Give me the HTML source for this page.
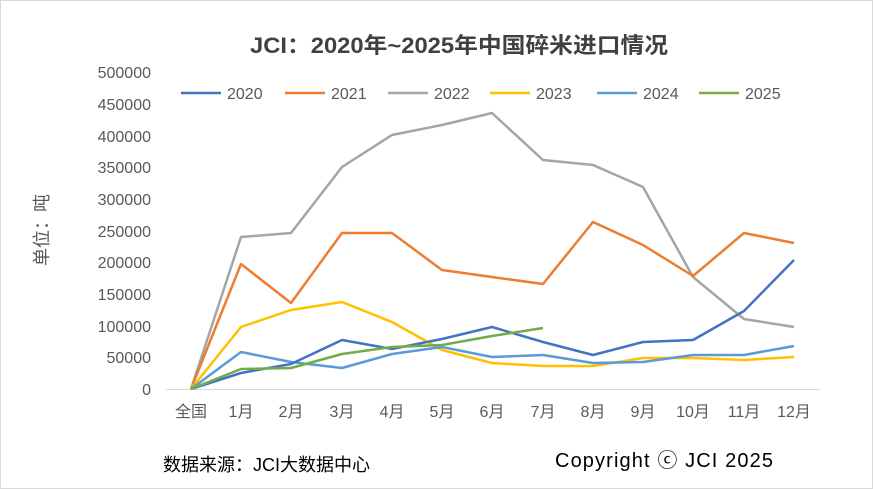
<!DOCTYPE html>
<html><head><meta charset="utf-8"><style>
body{margin:0;background:#fff}
svg{display:block;font-family:"Liberation Sans","Noto Sans CJK SC",sans-serif}
</style></head><body>
<svg width="873" height="489" viewBox="0 0 873 489" xmlns="http://www.w3.org/2000/svg">
<rect x="0.5" y="0.5" width="872" height="488" fill="#fff" stroke="#d9d9d9"/>
<text x="250" y="53" textLength="418" lengthAdjust="spacingAndGlyphs" font-size="22" font-weight="bold" fill="#404040">JCI：2020年~2025年中国碎米进口情况</text>
<g font-size="16" fill="#595959" text-anchor="end">
<text x="151" y="78">500000</text><text x="151" y="110">450000</text><text x="151" y="142">400000</text><text x="151" y="173">350000</text><text x="151" y="205">300000</text><text x="151" y="237">250000</text><text x="151" y="268">200000</text><text x="151" y="300">150000</text><text x="151" y="332">100000</text><text x="151" y="363">50000</text><text x="151" y="395">0</text>
</g>
<text transform="translate(48,230) rotate(-90)" text-anchor="middle" font-size="18" fill="#595959">单位：吨</text>
<line x1="166" y1="389.5" x2="820" y2="389.5" stroke="#d9d9d9"/>
<g font-size="16" fill="#595959" text-anchor="middle">
<text x="191" y="417">全国</text><text x="241" y="417">1月</text><text x="291" y="417">2月</text><text x="342" y="417">3月</text><text x="392" y="417">4月</text><text x="442" y="417">5月</text><text x="492" y="417">6月</text><text x="543" y="417">7月</text><text x="593" y="417">8月</text><text x="643" y="417">9月</text><text x="693" y="417">10月</text><text x="744" y="417">11月</text><text x="794" y="417">12月</text>
</g>
<g fill="none" stroke-width="2.5" stroke-linejoin="round">
<polyline stroke="#A5A5A5" points="191,389 241,237 291,233 342,167 392,135 442,125 492,113 543,160 593,165 643,187 693,277 744,319 794,327"/>
<polyline stroke="#ED7D31" points="191,389 241,264 291,303 342,233 392,233 442,270 492,277 543,284 593,222 643,245 693,276 744,233 794,243"/>
<polyline stroke="#FFC000" points="191,389 241,327 291,310 342,302 392,322 442,350 492,363 543,366 593,366 643,358 693,358 744,360 794,357"/>
<polyline stroke="#5B9BD5" points="191,389 241,352 291,362 342,368 392,354 442,347 492,357 543,355 593,363 643,362 693,355 744,355 794,346"/>
<polyline stroke="#4472C4" points="191,389 241,373 291,364 342,340 392,349 442,339 492,327 543,342 593,355 643,342 693,340 744,311 794,260"/>
<polyline stroke="#70AD47" points="191,389 241,369 291,368 342,354 392,347 442,345 492,336 543,328"/>
</g>
<g font-size="16" fill="#595959">
<line x1="181" y1="93" x2="221" y2="93" stroke="#4472C4" stroke-width="2.5"/><text x="227" y="99">2020</text>
<line x1="285" y1="93" x2="325" y2="93" stroke="#ED7D31" stroke-width="2.5"/><text x="331" y="99">2021</text>
<line x1="388" y1="93" x2="428" y2="93" stroke="#A5A5A5" stroke-width="2.5"/><text x="434" y="99">2022</text>
<line x1="490" y1="93" x2="530" y2="93" stroke="#FFC000" stroke-width="2.5"/><text x="536" y="99">2023</text>
<line x1="597" y1="93" x2="637" y2="93" stroke="#5B9BD5" stroke-width="2.5"/><text x="643" y="99">2024</text>
<line x1="699" y1="93" x2="739" y2="93" stroke="#70AD47" stroke-width="2.5"/><text x="745" y="99">2025</text>
</g>
<text x="163" y="471" font-size="18" fill="#000">数据来源：JCI大数据中心</text>
<text x="555" y="467" textLength="218" lengthAdjust="spacing" font-size="20" fill="#000">Copyright ⓒ JCI  2025</text>
</svg>
</body></html>
